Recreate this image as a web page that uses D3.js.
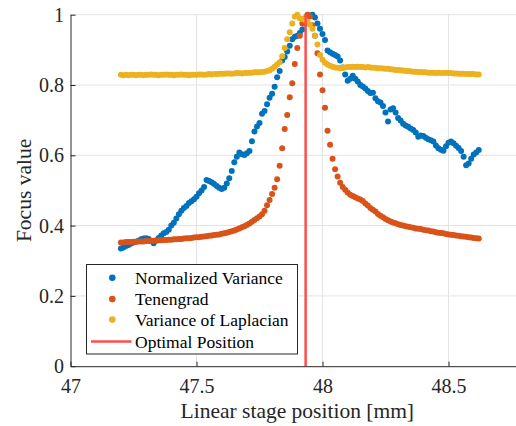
<!DOCTYPE html>
<html>
<head>
<meta charset="utf-8">
<script src="https://cdn.jsdelivr.net/npm/d3@7"></script>
<style>
  html, body { margin: 0; padding: 0; background: #fff; }
  svg { display: block; }
</style>
</head>
<body>
<svg id="chart" width="516" height="426"></svg>
<script>
// ---------------- DATA ----------------
const positions = [
  47.20,47.21,47.22,47.23,47.24,47.25,47.26,47.27,47.28,47.29,
  47.30,47.31,47.32,47.33,47.34,47.35,47.36,47.37,47.38,47.39,
  47.40,47.41,47.42,47.43,47.44,47.45,47.46,47.47,47.48,47.49,
  47.50,47.51,47.52,47.53,47.54,47.55,47.56,47.57,47.58,47.59,
  47.60,47.61,47.62,47.63,47.64,47.65,47.66,47.67,47.68,47.69,
  47.70,47.71,47.72,47.73,47.74,47.75,47.76,47.77,47.78,47.79,
  47.80,47.81,47.82,47.83,47.84,47.85,47.86,47.87,47.88,47.89,
  47.90,47.91,47.92,47.93,47.94,47.95,47.96,47.97,47.98,47.99,
  48.00,48.01,48.02,48.03,48.04,48.05,48.06,48.07,48.08,48.09,
  48.10,48.11,48.12,48.13,48.14,48.15,48.16,48.17,48.18,48.19,
  48.20,48.21,48.22,48.23,48.24,48.25,48.26,48.27,48.28,48.29,
  48.30,48.31,48.32,48.33,48.34,48.35,48.36,48.37,48.38,48.39,
  48.40,48.41,48.42,48.43,48.44,48.45,48.46,48.47,48.48,48.49,
  48.50,48.51,48.52,48.53,48.54,48.55,48.56,48.57,48.58,48.59,
  48.60,48.61,48.62
];

const normalizedVariance = [
  0.335,0.338,0.342,0.345,0.349,0.352,0.354,0.357,0.361,0.363,
  0.364,0.362,0.356,0.350,0.358,0.365,0.372,0.378,0.382,0.388,
  0.400,0.408,0.420,0.432,0.442,0.450,0.456,0.464,0.469,0.475,
  0.482,0.492,0.500,0.510,0.530,0.527,0.523,0.518,0.513,0.508,
  0.504,0.508,0.520,0.535,0.555,0.580,0.596,0.608,0.603,0.601,
  0.606,0.612,0.640,0.668,0.682,0.692,0.718,0.726,0.745,0.764,
  0.775,0.795,0.822,0.840,0.870,0.880,0.895,0.912,0.930,0.937,
  0.940,0.948,0.958,0.975,0.994,0.998,1.000,0.992,0.975,0.960,
  0.945,0.928,0.898,0.893,0.889,0.885,0.881,0.870,0.850,0.830,
  0.812,0.818,0.826,0.818,0.810,0.800,0.796,0.790,0.783,0.777,
  0.778,0.762,0.754,0.750,0.740,0.722,0.696,0.730,0.734,0.722,
  0.706,0.699,0.690,0.685,0.681,0.676,0.672,0.665,0.653,0.656,
  0.655,0.650,0.646,0.643,0.639,0.628,0.620,0.616,0.613,0.626,
  0.636,0.639,0.634,0.627,0.621,0.612,0.596,0.572,0.577,0.590,
  0.602,0.608,0.615
];

const tenengrad = [
  0.352,0.352,0.353,0.353,0.353,0.354,0.354,0.355,0.355,0.355,
  0.356,0.356,0.357,0.357,0.357,0.358,0.358,0.359,0.359,0.360,
  0.360,0.361,0.361,0.362,0.362,0.363,0.364,0.364,0.365,0.366,
  0.367,0.367,0.368,0.369,0.370,0.371,0.372,0.373,0.374,0.375,
  0.377,0.378,0.380,0.382,0.384,0.386,0.389,0.392,0.395,0.398,
  0.402,0.406,0.411,0.416,0.421,0.426,0.432,0.442,0.458,0.473,
  0.490,0.508,0.532,0.570,0.620,0.675,0.715,0.765,0.805,0.860,
  0.905,0.940,0.975,0.990,1.000,0.995,0.970,0.940,0.890,0.830,
  0.785,0.735,0.670,0.630,0.590,0.560,0.540,0.522,0.510,0.502,
  0.494,0.488,0.484,0.481,0.477,0.474,0.470,0.463,0.457,0.450,
  0.445,0.440,0.433,0.428,0.424,0.419,0.415,0.412,0.409,0.407,
  0.404,0.402,0.400,0.398,0.397,0.395,0.394,0.392,0.391,0.390,
  0.388,0.387,0.386,0.384,0.383,0.381,0.380,0.379,0.378,0.376,
  0.375,0.374,0.373,0.372,0.371,0.370,0.369,0.368,0.367,0.366,
  0.365,0.364,0.363
];

const varianceOfLaplacian = [
  0.829,0.828,0.829,0.828,0.829,0.829,0.828,0.829,0.829,0.828,
  0.829,0.829,0.830,0.829,0.829,0.828,0.829,0.829,0.830,0.829,
  0.829,0.828,0.829,0.829,0.830,0.829,0.829,0.828,0.829,0.829,
  0.829,0.830,0.830,0.829,0.830,0.831,0.830,0.831,0.831,0.832,
  0.832,0.832,0.833,0.833,0.832,0.833,0.834,0.834,0.833,0.834,
  0.834,0.835,0.835,0.836,0.836,0.836,0.837,0.838,0.840,0.842,
  0.846,0.852,0.858,0.865,0.882,0.905,0.930,0.950,0.975,0.995,
  1.000,0.990,0.988,0.985,0.980,0.972,0.960,0.940,0.915,0.885,
  0.872,0.863,0.858,0.855,0.852,0.850,0.849,0.848,0.849,0.850,
  0.851,0.851,0.852,0.851,0.852,0.851,0.851,0.850,0.851,0.850,
  0.849,0.849,0.848,0.848,0.847,0.846,0.846,0.845,0.844,0.843,
  0.843,0.842,0.841,0.840,0.840,0.839,0.838,0.838,0.837,0.837,
  0.836,0.836,0.835,0.835,0.835,0.834,0.835,0.834,0.834,0.835,
  0.834,0.834,0.833,0.833,0.832,0.832,0.832,0.831,0.831,0.831,
  0.831,0.830,0.830
];

const optimalPosition = [47.933];

const seriesNames = ["Normalized Variance", "Tenengrad", "Variance of Laplacian", "Optimal Position"];
const xTickValues = [47, 47.5, 48, 48.5];
const yTickValues = [0, 0.2, 0.4, 0.6, 0.8, 1];
const xLabel = "Linear stage position [mm]";
const yLabel = "Focus value";

// ---------------- LAYOUT / STYLE ----------------
const colors = ["#0072BD", "#D95319", "#EDB120", "#FF4D4D"];
const axisColor = "#262626";
const gridColor = "#e3e3e3";
const serif = "'Liberation Serif', 'Times New Roman', serif";

const svg = d3.select("#chart");
const plotLeft = 70.5, plotRight = 524.1, plotTop = 14.7, plotBottom = 366.2;

const x = d3.scaleLinear().domain([47, 48.8]).range([plotLeft, plotRight]);
const y = d3.scaleLinear().domain([0, 1]).range([plotBottom, plotTop]);

// grid
const grid = svg.append("g");
grid.selectAll("line.gx").data(xTickValues.slice(1)).enter().append("line")
  .attr("x1", d => x(d)).attr("x2", d => x(d))
  .attr("y1", plotTop).attr("y2", plotBottom)
  .attr("stroke", gridColor).attr("stroke-width", 1);
grid.selectAll("line.gy").data(yTickValues.slice(1)).enter().append("line")
  .attr("x1", plotLeft).attr("x2", plotRight)
  .attr("y1", d => y(d)).attr("y2", d => y(d))
  .attr("stroke", gridColor).attr("stroke-width", 1);

// series
const seriesList = [normalizedVariance, tenengrad, varianceOfLaplacian];
seriesList.forEach((vals, si) => {
  svg.append("g").selectAll("circle").data(vals).enter().append("circle")
    .attr("cx", (d, i) => x(positions[i]))
    .attr("cy", d => y(d))
    .attr("r", 3)
    .attr("fill", colors[si]);
});

// optimal line
svg.append("g").selectAll("line").data(optimalPosition).enter().append("line")
  .attr("x1", d => x(d)).attr("x2", d => x(d))
  .attr("y1", y(1)).attr("y2", y(0))
  .attr("stroke", colors[3]).attr("stroke-width", 2.5);

// axes
const xAxis = d3.axisBottom(x).tickValues(xTickValues).tickFormat(d3.format("")).tickSizeInner(-4.5).tickSizeOuter(0).tickPadding(12.5);
const yAxis = d3.axisLeft(y).tickValues(yTickValues).tickFormat(d3.format("")).tickSizeInner(-5).tickSizeOuter(0).tickPadding(6.5);

const gx = svg.append("g").attr("transform", `translate(0,${plotBottom})`).call(xAxis);
const gy = svg.append("g").attr("transform", `translate(${plotLeft},0)`).call(yAxis);
[gx, gy].forEach(g => {
  g.select(".domain").attr("stroke", axisColor).attr("stroke-width", 1);
  g.selectAll(".tick line").attr("stroke", axisColor).attr("stroke-width", 1);
  g.selectAll(".tick text").attr("fill", axisColor).style("font-family", serif).style("font-size", "20px");
});

// axis labels
svg.append("text")
  .attr("x", (plotLeft + plotRight) / 2).attr("y", 418)
  .attr("text-anchor", "middle")
  .style("font-family", serif).style("font-size", "21.5px")
  .attr("fill", axisColor)
  .text(xLabel);
svg.append("text")
  .attr("transform", `translate(31,${(plotTop + plotBottom) / 2}) rotate(-90)`)
  .attr("text-anchor", "middle")
  .style("font-family", serif).style("font-size", "21.5px")
  .attr("fill", axisColor)
  .text(yLabel);

// legend
const lg = svg.append("g");
lg.append("rect")
  .attr("x", 86.5).attr("y", 264.5).attr("width", 211).attr("height", 89.5)
  .attr("fill", "#fff").attr("stroke", axisColor).attr("stroke-width", 1);
const rowY = [277.8, 299.1, 319.6, 341.6];
seriesNames.forEach((name, i) => {
  if (i < 3) {
    lg.append("circle").attr("cx", 112.3).attr("cy", rowY[i]).attr("r", 3.3).attr("fill", colors[i]);
  } else {
    lg.append("line").attr("x1", 91).attr("x2", 131.5).attr("y1", rowY[i]).attr("y2", rowY[i])
      .attr("stroke", colors[3]).attr("stroke-width", 2.5);
  }
  lg.append("text")
    .attr("x", 135).attr("y", rowY[i] + 6)
    .style("font-family", serif).style("font-size", "17.5px")
    .attr("fill", "#000")
    .text(name);
});
</script>
</body>
</html>
